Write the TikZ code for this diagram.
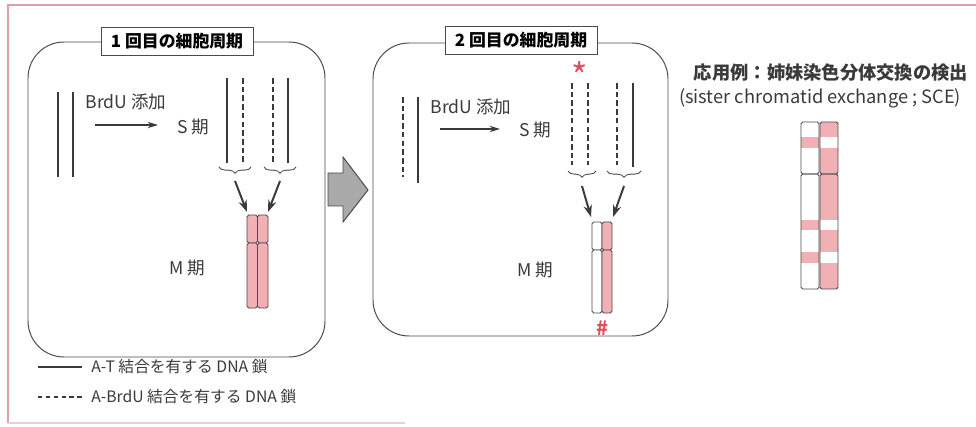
\documentclass[tikz,border=0pt]{standalone}
\usepackage{fontspec}
\setmainfont{Noto Sans CJK JP}
\usepackage{xcolor}
\definecolor{framePink}{HTML}{DCA0A8}
\definecolor{stainPink}{HTML}{F0B0B4}
\definecolor{markRed}{HTML}{E0505C}
\definecolor{lineGray}{HTML}{4A4A4A}
\definecolor{darkText}{HTML}{3A3A3A}
\definecolor{arrowGray}{HTML}{A9A9A9}
\usepackage{tikz}
\usetikzlibrary{
    arrows.meta,
    decorations.pathreplacing,
    positioning
}
\tikzset{
    % Page frame around the figure
    frame/.style={
        draw=framePink,
        line width=0.8pt,
    },
    % Rounded panel for one cell cycle
    panel/.style={
        draw=lineGray,
        line width=0.7pt,
        rounded corners=9mm,
    },
    % Boxed heading sitting on the panel edge
    panel title/.style={
        draw=lineGray,
        line width=0.7pt,
        fill=white,
        font=\fontsize{12}{14}\selectfont\bfseries,
        minimum width=38mm,
        minimum height=7mm,
        inner sep=1pt,
    },
    % Plain labels
    label text/.style={
        font=\fontsize{12.5}{14}\selectfont,
        text=darkText,
        inner sep=0pt,
    },
    % Legend entries
    legend text/.style={
        label text,
        font=\fontsize{11.2}{13}\selectfont,
        anchor=west,
    },
    % DNA strands: solid = A-T, dashed = A-BrdU
    strand/.style={
        draw=darkText,
        line width=1.6pt,
    },
    strand brdu/.style={
        strand,
        dash pattern=on 4pt off 2.2pt,
    },
    % One arm of a chromatid
    chromatid/.style={
        draw=lineGray,
        line width=0.6pt,
        rounded corners=1.2pt,
    },
    % Brace grouping two strands
    pair brace/.style={
        draw=lineGray,
        line width=0.6pt,
        decorate,
        decoration={brace, mirror, amplitude=4.5pt},
    },
    % Thin arrow after BrdU
    add arrow/.style={
        -{Stealth[length=2.6mm, width=1.6mm]},
        draw=darkText,
        line width=0.9pt,
    },
    % Arrow from strand pair to chromatid
    pick arrow/.style={
        -{Stealth[length=3mm, width=2.1mm]},
        draw=darkText,
        line width=1.4pt,
    },
    % Red marks
    red sign/.style={
        text=markRed,
        font=\fontsize{14}{14}\selectfont\bfseries,
        inner sep=0pt,
    },
}

\begin{document}
\begin{tikzpicture}[x=0.25mm, y=-0.25mm]
    \useasboundingbox (0,0) rectangle (976,427);

    % frame
    \draw[frame] (976,5) -- (8,5) -- (8,423);
    \draw[frame, draw=framePink!50] (8,423) -- (405,423);

    % ---- first cell cycle ----
    \draw[panel] (28,42) rectangle (325,357);
    \node (title1) [panel title] at (177,41) {1 回目の細胞周期};

    \draw[strand] (58,92) -- (58,177);
    \draw[strand] (73,92) -- (73,177);
    \node (add1) [label text] at (126,102) {BrdU 添加};
    \coordinate (add1s) at (95,125);
    \coordinate (add1e) at (158,125);
    \draw[add arrow] (add1s) -- (add1e);
    \node (s1) [label text] at (193,127) {S 期};

    \draw[strand] (227,78) -- (227,163);
    \draw[strand brdu] (243,78) -- (243,163);
    \draw[strand brdu] (273,78) -- (273,163);
    \draw[strand] (288,78) -- (288,163);
    \draw[pair brace] (219,167) -- (251,167);
    \draw[pair brace] (264,167) -- (296,167);
    \coordinate (b1) at (235,181);
    \coordinate (b2) at (280,181);
    \coordinate (t1) at (247,212);
    \coordinate (t2) at (268,212);
    \draw[pick arrow] (b1) -- (t1);
    \draw[pick arrow] (b2) -- (t2);

    \draw[chromatid, fill=stainPink] (247,215) rectangle (257.5,243);
    \draw[chromatid, fill=stainPink] (257.5,215) rectangle (268,243);
    \draw[chromatid, fill=stainPink] (247,243) rectangle (257.5,308);
    \draw[chromatid, fill=stainPink] (257.5,243) rectangle (268,308);
    \node (m1) [label text] at (187,268) {M 期};

    % arrow between the two cycles
    \draw[draw=lineGray, line width=0.7pt, fill=arrowGray]
        (328,173) -- (343,173) -- (343,157) -- (368,190)
        -- (343,222) -- (343,206) -- (328,206) -- cycle;

    % ---- second cell cycle ----
    \draw[panel] (373,43) rectangle (668,336);
    \node (title2) [panel title] at (521,40) {2 回目の細胞周期};

    \draw[strand brdu] (403,97) -- (403,177);
    \draw[strand] (418,97) -- (418,183);
    \node (add2) [label text] at (471,107) {BrdU 添加};
    \coordinate (add2s) at (440,129);
    \coordinate (add2e) at (500,129);
    \draw[add arrow] (add2s) -- (add2e);
    \node (s2) [label text] at (535,130) {S 期};

    \node (star) [red sign, font=\fontsize{25}{25}\selectfont] at (580,76) {*};
    \draw[strand brdu] (572,83) -- (572,165);
    \draw[strand brdu] (588,83) -- (588,165);
    \draw[strand brdu] (617,83) -- (617,165);
    \draw[strand] (633,83) -- (633,167);
    \draw[pair brace] (568,171) -- (596,171);
    \draw[pair brace] (607,171) -- (641,171);
    \coordinate (b3) at (582,186);
    \coordinate (b4) at (624,186);
    \coordinate (t3) at (591,217);
    \coordinate (t4) at (613,217);
    \draw[pick arrow] (b3) -- (t3);
    \draw[pick arrow] (b4) -- (t4);

    \draw[chromatid, fill=white] (592,222) rectangle (602,250);
    \draw[chromatid, fill=stainPink] (602,222) rectangle (612,250);
    \draw[chromatid, fill=white] (592,250) rectangle (602,313);
    \draw[chromatid, fill=stainPink] (602,250) rectangle (612,313);
    \node (m2) [label text] at (535,270) {M 期};
    \node (hash) [red sign] at (602,328) {\#};

    % ---- application: SCE ----
    \node (apptitle) [label text, font=\fontsize{13}{15}\selectfont\bfseries]
        at (831,73) {応用例：姉妹染色分体交換の検出};
    \node (appsub) [label text, font=\fontsize{13}{15}\selectfont]
        at (820,98) {(sister chromatid exchange ; SCE)};

    % left chromatid: white with pink bands
    \fill[white] (801,122) rectangle (819,289);
    \fill[stainPink] (801,137) rectangle (819,148);
    \fill[stainPink] (801,220) rectangle (819,230);
    \fill[stainPink] (801,252) rectangle (819,263);
    % right chromatid: pink with white bands
    \fill[stainPink] (820,122) rectangle (838,289);
    \fill[white] (820,137) rectangle (838,148);
    \fill[white] (820,220) rectangle (838,230);
    \fill[white] (820,252) rectangle (838,263);
    \draw[chromatid] (801,122) rectangle (819,174);
    \draw[chromatid] (801,174) rectangle (819,289);
    \draw[chromatid] (820,122) rectangle (838,174);
    \draw[chromatid] (820,174) rectangle (838,289);

    % ---- legend ----
    \coordinate (leg1s) at (38,367);
    \coordinate (leg1e) at (82,367);
    \draw[strand, line width=1.1pt] (leg1s) -- (leg1e);
    \node (leg1) [legend text] at (91,367) {A-T 結合を有する DNA 鎖};
    \coordinate (leg2s) at (38,397);
    \coordinate (leg2e) at (82,397);
    \draw[strand, line width=1.1pt, dash pattern=on 3pt off 2.6pt] (leg2s) -- (leg2e);
    \node (leg2) [legend text] at (91,397) {A-BrdU 結合を有する DNA 鎖};
\end{tikzpicture}
\end{document}
